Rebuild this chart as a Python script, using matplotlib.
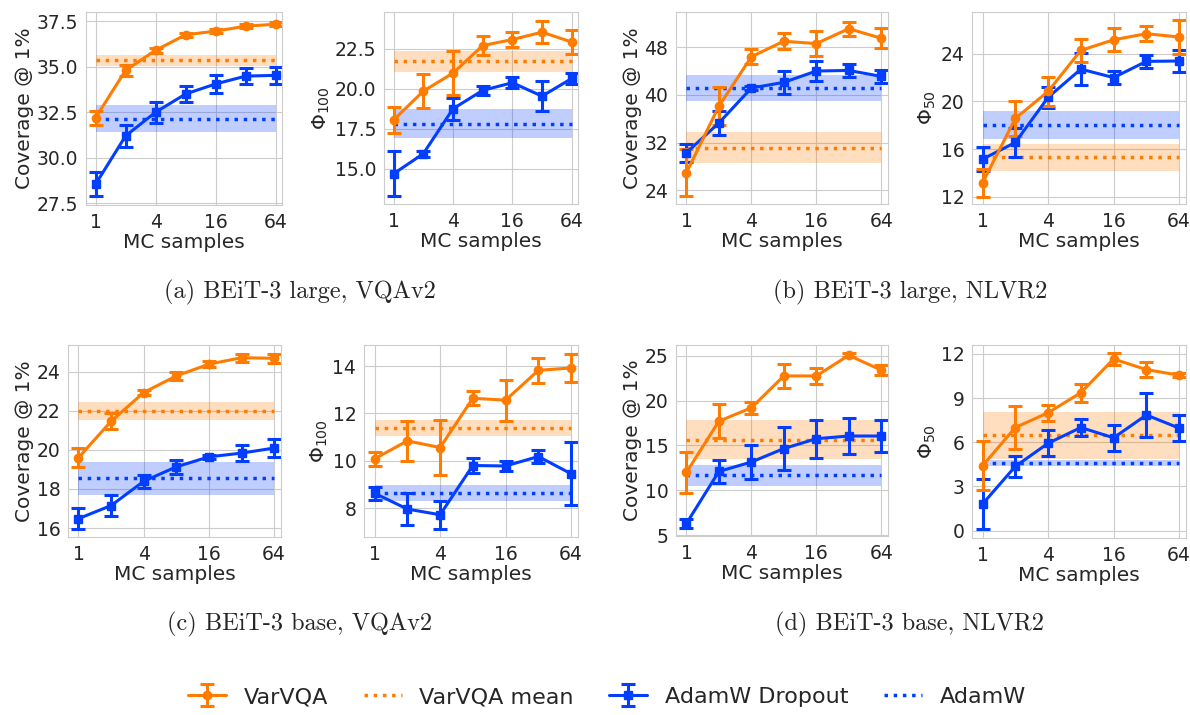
import numpy as np
import matplotlib
matplotlib.use('Agg')
import matplotlib.pyplot as plt
import seaborn as sns

sns.set_style('whitegrid')
plt.rcParams['font.family'] = ['DejaVu Sans']

ORANGE = '#ff7c00'
BLUE = '#023eff'

mc_samples = [1, 2, 4, 8, 16, 32, 64]

# (a) BEiT-3 large, VQAv2
a_cov_var = [32.2, 34.8, 35.9, 36.75, 36.95, 37.22, 37.33]
a_cov_var_err = [0.38, 0.3, 0.15, 0.12, 0.1, 0.1, 0.12]
a_cov_drop = [28.55, 31.2, 32.5, 33.5, 34.05, 34.48, 34.52]
a_cov_drop_err = [0.68, 0.6, 0.58, 0.44, 0.48, 0.45, 0.46]
a_cov_var_mean, a_cov_var_std = 35.35, 0.3
a_cov_adamw_mean, a_cov_adamw_std = 32.15, 0.73

a_phi_var = [18.05, 19.85, 20.98, 22.7, 23.08, 23.54, 22.92]
a_phi_var_err = [0.83, 1.07, 1.37, 0.6, 0.47, 0.7, 0.75]
a_phi_drop = [14.69, 15.94, 18.75, 19.9, 20.38, 19.54, 20.65]
a_phi_drop_err = [1.4, 0.2, 0.7, 0.28, 0.35, 0.92, 0.35]
a_phi_var_mean, a_phi_var_std = 21.71, 0.68
a_phi_adamw_mean, a_phi_adamw_std = 17.82, 0.9

# (b) BEiT-3 large, NLVR2
b_cov_var = [26.97, 38.1, 46.4, 49.0, 48.6, 51.1, 49.5]
b_cov_var_err = [4.0, 3.2, 1.3, 1.3, 2.1, 1.2, 1.7]
b_cov_drop = [30.3, 35.3, 41.15, 42.1, 44.0, 44.1, 43.1]
b_cov_drop_err = [1.5, 2.07, 0.4, 1.9, 1.7, 1.06, 1.1]
b_cov_var_mean, b_cov_var_std = 31.1, 2.6
b_cov_adamw_mean, b_cov_adamw_std = 41.15, 2.24

b_phi_var = [13.17, 18.57, 20.84, 24.28, 25.17, 25.68, 25.4]
b_phi_var_err = [1.19, 1.47, 1.19, 0.94, 0.98, 0.63, 1.4]
b_phi_drop = [15.16, 16.56, 20.34, 22.71, 22.0, 23.36, 23.39]
b_phi_drop_err = [0.98, 1.19, 0.9, 1.36, 0.56, 0.57, 0.95]
b_phi_var_mean, b_phi_var_std = 15.3, 1.1
b_phi_adamw_mean, b_phi_adamw_std = 18.05, 1.17

# (c) BEiT-3 base, VQAv2
c_cov_var = [19.6, 21.46, 22.93, 23.78, 24.38, 24.71, 24.68]
c_cov_var_err = [0.5, 0.42, 0.15, 0.2, 0.15, 0.2, 0.22]
c_cov_drop = [16.48, 17.15, 18.39, 19.13, 19.64, 19.83, 20.09]
c_cov_drop_err = [0.54, 0.53, 0.34, 0.35, 0.1, 0.42, 0.48]
c_cov_var_mean, c_cov_var_std = 21.97, 0.47
c_cov_adamw_mean, c_cov_adamw_std = 18.54, 0.83

c_phi_var = [10.08, 10.84, 10.56, 12.64, 12.56, 13.82, 13.92]
c_phi_var_err = [0.3, 0.83, 1.15, 0.3, 0.87, 0.53, 0.61]
c_phi_drop = [8.63, 7.96, 7.72, 9.8, 9.78, 10.18, 9.45]
c_phi_drop_err = [0.27, 0.69, 0.6, 0.32, 0.2, 0.28, 1.33]
c_phi_var_mean, c_phi_var_std = 11.38, 0.35
c_phi_adamw_mean, c_phi_adamw_std = 8.63, 0.35

# (d) BEiT-3 base, NLVR2
d_cov_var = [12.0, 17.7, 19.2, 22.75, 22.75, 25.05, 23.4]
d_cov_var_err = [2.3, 1.9, 0.65, 1.3, 0.87, 0.22, 0.52]
d_cov_drop = [6.3, 12.1, 13.15, 14.65, 15.75, 16.05, 16.05]
d_cov_drop_err = [0.55, 1.3, 1.9, 2.4, 2.1, 2.0, 1.8]
d_cov_var_mean, d_cov_var_std = 15.65, 2.2
d_cov_adamw_mean, d_cov_adamw_std = 11.7, 1.17

d_phi_var = [4.4, 7.0, 8.0, 9.36, 11.65, 10.93, 10.55]
d_phi_var_err = [1.66, 1.44, 0.53, 0.62, 0.4, 0.5, 0.13]
d_phi_drop = [1.81, 4.36, 5.93, 7.0, 6.3, 7.85, 6.96]
d_phi_drop_err = [1.67, 0.7, 0.87, 0.59, 0.9, 1.52, 0.9]
d_phi_var_mean, d_phi_var_std = 6.47, 1.6
d_phi_adamw_mean, d_phi_adamw_std = 4.59, 0.22

panels = [
    # pixel box (left, right, top, bottom), ylabel, ylim, ytick step, data
    ((86, 282, 12, 205), 'Coverage @ 1%', (27.4, 38.0), 2.5,
     a_cov_var, a_cov_var_err, a_cov_drop, a_cov_drop_err,
     a_cov_var_mean, a_cov_var_std, a_cov_adamw_mean, a_cov_adamw_std),
    ((384, 578, 12, 204), r'$\Phi_{100}$', (12.8, 24.8), 2.5,
     a_phi_var, a_phi_var_err, a_phi_drop, a_phi_drop_err,
     a_phi_var_mean, a_phi_var_std, a_phi_adamw_mean, a_phi_adamw_std),
    ((676, 888, 12, 204), 'Coverage @ 1%', (21.7, 53.9), 8,
     b_cov_var, b_cov_var_err, b_cov_drop, b_cov_drop_err,
     b_cov_var_mean, b_cov_var_std, b_cov_adamw_mean, b_cov_adamw_std),
    ((972, 1186, 12, 204), r'$\Phi_{50}$', (11.4, 27.5), 4,
     b_phi_var, b_phi_var_err, b_phi_drop, b_phi_drop_err,
     b_phi_var_mean, b_phi_var_std, b_phi_adamw_mean, b_phi_adamw_std),
    ((68, 281, 345, 537), 'Coverage @ 1%', (15.54, 25.36), 2,
     c_cov_var, c_cov_var_err, c_cov_drop, c_cov_drop_err,
     c_cov_var_mean, c_cov_var_std, c_cov_adamw_mean, c_cov_adamw_std),
    ((364, 578, 345, 537), r'$\Phi_{100}$', (6.78, 14.89), 2,
     c_phi_var, c_phi_var_err, c_phi_drop, c_phi_drop_err,
     c_phi_var_mean, c_phi_var_std, c_phi_adamw_mean, c_phi_adamw_std),
    ((676, 888, 345, 536), 'Coverage @ 1%', (4.9, 26.2), 5,
     d_cov_var, d_cov_var_err, d_cov_drop, d_cov_drop_err,
     d_cov_var_mean, d_cov_var_std, d_cov_adamw_mean, d_cov_adamw_std),
    ((972, 1186, 345, 538), r'$\Phi_{50}$', (-0.5, 12.6), 3,
     d_phi_var, d_phi_var_err, d_phi_drop, d_phi_drop_err,
     d_phi_var_mean, d_phi_var_std, d_phi_adamw_mean, d_phi_adamw_std),
]

captions = ['(a) BEiT-3 large, VQAv2', '(b) BEiT-3 large, NLVR2',
            '(c) BEiT-3 base, VQAv2', '(d) BEiT-3 base, NLVR2']

W, H = 1190, 715
fig = plt.figure(figsize=(W / 100, H / 100), dpi=100)

handles = None
for box, ylabel, ylim, step, var, var_err, drop, drop_err, vm, vs, am, asd in panels:
    L, R, T, B = box
    ax = fig.add_axes([L / W, 1 - B / H, (R - L) / W, (B - T) / H])
    x = np.array(mc_samples)

    # constant baselines with +- std band
    ax.fill_between(x, vm - vs, vm + vs, color=ORANGE, alpha=0.25, lw=0)
    ax.fill_between(x, am - asd, am + asd, color=BLUE, alpha=0.25, lw=0)
    h_vm, = ax.plot(x, [vm] * len(x), ls=':', color=ORANGE, lw=2.5)
    h_am, = ax.plot(x, [am] * len(x), ls=':', color=BLUE, lw=2.5)

    h_drop = ax.errorbar(x, drop, yerr=drop_err, color=BLUE, marker='s', ms=6,
                         lw=2.2, capsize=5, capthick=2.2, elinewidth=2.2)
    h_var = ax.errorbar(x, var, yerr=var_err, color=ORANGE, marker='o', ms=6,
                        lw=2.2, capsize=5, capthick=2.2, elinewidth=2.2)

    ax.set_xscale('log', base=2)
    ax.set_xticks([1, 4, 16, 64])
    ax.set_xticklabels(['1', '4', '16', '64'])
    ax.minorticks_off()
    ax.set_xlim(0.8, 74)
    ax.set_ylim(*ylim)
    ax.yaxis.set_major_locator(plt.MultipleLocator(step))
    ax.tick_params(labelsize=13.5, pad=2)
    ax.set_xlabel('MC samples', fontsize=14.5, labelpad=1)
    ax.set_ylabel(ylabel, fontsize=14.5, labelpad=2)
    handles = [h_var, h_vm, h_drop, h_am]

cap_pos = [(300, 292), (910, 292), (300, 624), (910, 624)]
for (cx, cy), txt in zip(cap_pos, captions):
    fig.text(cx / W, 1 - cy / H, txt, ha='center', va='center',
             fontsize=17.5, family='cmr10')

fig.legend(handles, ['VarVQA', 'VarVQA mean', 'AdamW Dropout', 'AdamW'],
           loc='center', bbox_to_anchor=(607 / W, 1 - 697 / H), ncol=4,
           frameon=False, fontsize=16, handlelength=1.7, columnspacing=1.6)

plt.savefig('out.png', dpi=100)
